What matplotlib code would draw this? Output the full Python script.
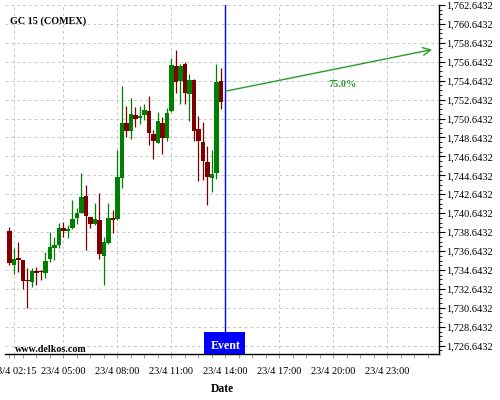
import matplotlib
matplotlib.use("Agg")
import matplotlib.pyplot as plt
import matplotlib.dates as mdates
from matplotlib.ticker import FixedLocator, FuncFormatter, AutoMinorLocator
from matplotlib.patches import Rectangle
import pandas as pd
import numpy as np

plt.rcParams['font.family'] = ['Liberation Serif', 'DejaVu Serif']

# ---- data (15-minute candles, GC 15 COMEX, 23/4) ----
times = pd.date_range("2015-04-23 02:00", periods=48, freq="15min")
opens = [1738.75, 1735.21, 1735.85, 1735.69, 1733.55, 1733.40, 1734.48, 1734.45,
         1734.35, 1735.80, 1736.99, 1737.27, 1739.04, 1738.78, 1739.07, 1740.15,
         1740.68, 1742.44, 1740.20, 1739.46, 1739.91, 1736.14, 1737.52, 1740.09,
         1740.05, 1744.38, 1750.12, 1749.34, 1750.99, 1750.75, 1751.02, 1751.42,
         1748.99, 1748.07, 1750.18, 1748.62, 1751.42, 1756.16, 1754.58, 1756.38,
         1753.28, 1754.69, 1749.59, 1748.17, 1746.00, 1744.40, 1744.90, 1754.58]
highs = [1739.14, 1736.99, 1737.62, 1735.74, 1734.81, 1734.81, 1734.92, 1734.63,
         1736.57, 1738.68, 1738.15, 1739.56, 1739.73, 1739.38, 1742.02, 1741.15,
         1744.90, 1743.66, 1740.28, 1741.74, 1742.79, 1738.15, 1741.74, 1740.97,
         1747.30, 1754.05, 1751.94, 1752.86, 1751.81, 1751.94, 1752.15, 1753.00,
         1749.41, 1751.34, 1750.81, 1751.73, 1757.08, 1757.93, 1756.38, 1756.62,
         1755.32, 1754.79, 1750.94, 1750.29, 1747.72, 1747.30, 1756.45, 1756.01]
lows = [1735.16, 1734.21, 1734.42, 1732.60, 1730.59, 1732.81, 1733.05, 1733.58,
        1733.82, 1735.51, 1735.69, 1736.92, 1738.15, 1738.06, 1739.01, 1739.49,
        1740.62, 1736.74, 1739.04, 1739.38, 1735.76, 1733.05, 1737.38, 1738.51,
        1739.91, 1743.26, 1748.70, 1748.53, 1749.76, 1750.04, 1750.47, 1747.90,
        1746.32, 1748.01, 1746.95, 1748.25, 1751.36, 1753.35, 1752.23, 1752.15,
        1750.39, 1748.28, 1744.08, 1744.13, 1741.49, 1742.90, 1744.26, 1751.70]
closes = [1735.34, 1735.76, 1735.74, 1733.50, 1733.44, 1734.53, 1734.37, 1734.39,
          1735.58, 1737.09, 1737.27, 1739.04, 1738.78, 1738.96, 1739.99, 1740.68,
          1742.37, 1740.37, 1739.46, 1740.02, 1736.29, 1737.62, 1740.09, 1739.91,
          1744.42, 1750.22, 1749.30, 1751.10, 1750.64, 1750.89, 1751.52, 1749.13,
          1748.28, 1750.36, 1748.64, 1751.20, 1756.27, 1754.53, 1756.16, 1753.35,
          1754.69, 1749.34, 1748.28, 1746.14, 1744.48, 1744.77, 1754.48, 1752.40]

event_time = pd.Timestamp("2015-04-23 14:00")
arrow_start = (pd.Timestamp("2015-04-23 14:00"), 1753.53)
arrow_end = (pd.Timestamp("2015-04-24 01:29"), 1757.93)
arrow_label = "75.0%"
label_pos = (pd.Timestamp("2015-04-23 20:30"), 1754.2)

ytick_values = [1726.6432 + 2 * k for k in range(19)]
xtick_times = [pd.Timestamp("2015-04-23 02:15")] + \
    [pd.Timestamp("2015-04-23 05:00") + pd.Timedelta(hours=3 * k) for k in range(7)]
title = "GC 15 (COMEX)"
watermark = "www.delkos.com"

# ---- figure ----
fig = plt.figure(figsize=(5, 4), dpi=100)
ax = fig.add_axes([0.01, 0.115, 0.868, 0.8735])

GREEN = "#008000"
RED = "#800000"
x = mdates.date2num(times)
w = 14 / 1440.0
for xi, o, h, l, c in zip(x, opens, highs, lows, closes):
    col = GREEN if c >= o else RED
    ax.vlines(xi, l, h, color=col, lw=0.9, zorder=3)
    lo = min(o, c)
    hgt = max(abs(c - o), 0.12)
    ax.bar(xi, hgt, bottom=lo, width=w, color=col, lw=0, zorder=4)

ax.axvline(mdates.date2num(event_time), color="#0000ff", lw=1.0, zorder=5)

ax.annotate("", xy=(mdates.date2num(arrow_end[0]), arrow_end[1]),
            xytext=(mdates.date2num(arrow_start[0]), arrow_start[1]),
            arrowprops=dict(arrowstyle="->", color="#2a9a2a", lw=1.0,
                            mutation_scale=14, shrinkA=0, shrinkB=0), zorder=6)
ax.text(mdates.date2num(label_pos[0]), label_pos[1], arrow_label, color="#2a9a2a",
        fontsize=7.4, fontweight="bold", ha="center", va="center")

ax.set_xlim(mdates.date2num(pd.Timestamp("2015-04-23 01:45")),
            mdates.date2num(pd.Timestamp("2015-04-24 01:52")))
ax.set_ylim(1725.77, 1762.68)

# event box
ex = mdates.date2num(event_time)
trans = ax.get_xaxis_transform()
rect = Rectangle((ex - 70 / 1440.0, 0), 136 / 1440.0, 0.063, transform=trans,
                 facecolor="#0000ff", edgecolor="none", zorder=7, clip_on=False)
ax.add_patch(rect)
ax.text(ex, 0.022, "Event", transform=trans, color="white", fontsize=8.6,
        fontweight="bold", ha="center", va="center", zorder=8)

# axes styling
for s in ["left", "top"]:
    ax.spines[s].set_visible(False)
for s in ["right", "bottom"]:
    ax.spines[s].set_linewidth(1.0)
    ax.spines[s].set_color("black")

ax.yaxis.tick_right()
ax.yaxis.set_major_locator(FixedLocator(ytick_values))
ax.yaxis.set_major_formatter(FuncFormatter(lambda v, p: f"{v:,.4f}"))
ax.yaxis.set_minor_locator(AutoMinorLocator(4))

ax.xaxis.set_major_locator(FixedLocator(mdates.date2num(xtick_times)))
ax.xaxis.set_major_formatter(FuncFormatter(
    lambda v, p: (lambda d: f"{d.day}/{d.month} {d:%H:%M}")(mdates.num2date(v))))
minor_times = pd.date_range("2015-04-23 02:00", "2015-04-24 01:45", freq="45min")
ax.xaxis.set_minor_locator(FixedLocator(mdates.date2num(minor_times)))

ax.tick_params(axis="y", which="major", direction="out", length=4, width=0.8,
               labelsize=7.5, pad=1.5)
ax.tick_params(axis="y", which="minor", direction="out", length=2, width=0.6)
ax.tick_params(axis="x", which="major", direction="out", length=3, width=0.6,
               labelsize=7.5, pad=6.5, color="#888888")
ax.tick_params(axis="x", which="minor", direction="out", length=3, width=0.6,
               color="#888888")

ax.grid(True, which="major", linestyle=(0, (3, 3)), color="#c8c8c8", lw=0.7, zorder=0)
ax.set_axisbelow(True)

ax.set_xlabel("Date", fontsize=8.4, fontweight="bold", labelpad=5)

fig.text(0.02, 0.948, title, fontsize=7.3, fontweight="bold", ha="left", va="center")
fig.text(0.03, 0.1275, watermark, fontsize=7.2, fontweight="bold", ha="left", va="center")

fig.savefig("out.png", dpi=100)
